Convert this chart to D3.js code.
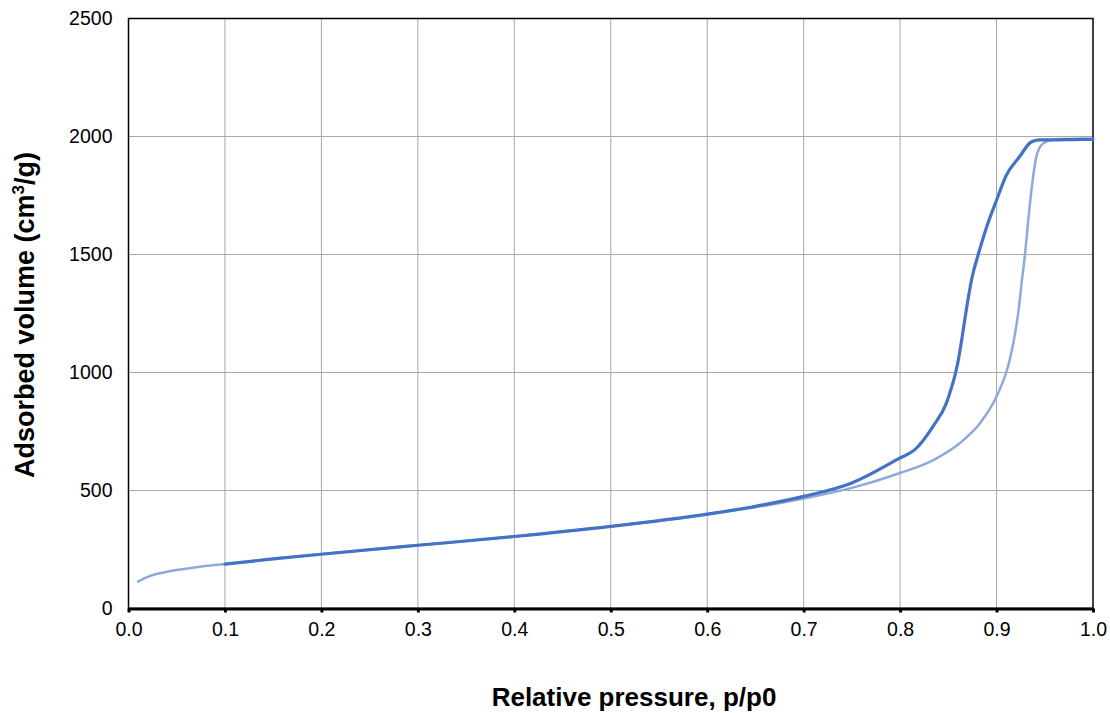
<!DOCTYPE html>
<html>
<head>
<meta charset="utf-8">
<script src="https://cdn.jsdelivr.net/npm/d3@7"></script>
<style>
  html, body { margin: 0; padding: 0; background: #fff; }
  svg { display: block; font-family: "Liberation Sans", Arial, sans-serif; }
</style>
</head>
<body>
<svg id="chart" width="1110" height="713"></svg>
<script>
// Nitrogen isotherm: adsorption branch (light) and desorption branch (dark)
const adsPressure = [0.01, 0.02, 0.03, 0.04, 0.05, 0.07, 0.10, 0.15, 0.20, 0.30, 0.40, 0.50, 0.60, 0.70, 0.75, 0.80, 0.835, 0.862, 0.883, 0.900, 0.905, 0.910, 0.914, 0.919, 0.923, 0.926, 0.9295, 0.933, 0.937, 0.941, 0.945, 0.950, 0.955, 0.966, 0.98, 1.00];
const adsVolume   = [114, 134, 147, 156, 163, 175, 189, 211, 231, 268, 305, 348, 398, 466, 511, 574, 630, 701, 786, 898, 945, 1000, 1060, 1160, 1270, 1380, 1500, 1650, 1800, 1910, 1955, 1975, 1983, 1989, 1990, 1990];

const desPressure = [0.10, 0.15, 0.20, 0.30, 0.40, 0.50, 0.60, 0.65, 0.70, 0.75, 0.80, 0.815, 0.834, 0.848, 0.853, 0.857, 0.860, 0.863, 0.866, 0.870, 0.875, 0.881, 0.890, 0.900, 0.910, 0.924, 0.935, 0.940, 0.945, 0.96, 0.98, 1.00];
const desVolume   = [188, 210, 230, 268, 305, 348, 400, 433, 475, 532, 638, 672, 771, 870, 932, 990, 1045, 1115, 1195, 1300, 1410, 1500, 1620, 1730, 1835, 1915, 1974, 1983, 1986, 1986, 1987, 1988];

const xTicks = [0, 0.1, 0.2, 0.3, 0.4, 0.5, 0.6, 0.7, 0.8, 0.9, 1.0];
const yTicks = [0, 500, 1000, 1500, 2000, 2500];

const svg = d3.select("#chart");
const m = { left: 128.5, right: 1093, top: 18.5, bottom: 608.5 };

const x = d3.scaleLinear().domain([0, 1]).range([m.left, m.right]);
const y = d3.scaleLinear().domain([0, 2500]).range([m.bottom, m.top]);

// gridlines
svg.append("g").selectAll("line").data(xTicks.slice(1, -1)).join("line")
  .attr("x1", d => x(d)).attr("x2", d => x(d))
  .attr("y1", m.top).attr("y2", m.bottom)
  .attr("stroke", "#a9a9a9").attr("stroke-width", 1);
svg.append("g").selectAll("line").data(yTicks.slice(1, -1)).join("line")
  .attr("x1", m.left).attr("x2", m.right)
  .attr("y1", d => y(d)).attr("y2", d => y(d))
  .attr("stroke", "#a9a9a9").attr("stroke-width", 1);

// plot border
svg.append("rect")
  .attr("x", m.left).attr("y", m.top)
  .attr("width", m.right - m.left).attr("height", m.bottom - m.top)
  .attr("fill", "none").attr("stroke", "#000").attr("stroke-width", 1.5);

// x axis
const xAxis = d3.axisBottom(x).tickValues(xTicks).tickFormat(d3.format(".1f"))
  .tickSize(4).tickSizeOuter(0).tickPadding(10);
const gx = svg.append("g").attr("transform", `translate(0,${m.bottom})`).call(xAxis);
gx.select(".domain").attr("stroke", "#000").attr("stroke-width", 3);
gx.selectAll(".tick line").attr("stroke", "#000").attr("stroke-width", 3);
gx.selectAll(".tick text").attr("font-size", 19.5).attr("fill", "#000")
  .attr("font-family", "Liberation Sans, Arial, sans-serif");

// y axis
const yAxis = d3.axisLeft(y).tickValues(yTicks).tickFormat(d3.format("d"))
  .tickSize(0).tickPadding(16);
const gy = svg.append("g").attr("transform", `translate(${m.left},0)`).call(yAxis);
gy.select(".domain").remove();
gy.selectAll(".tick text").attr("font-size", 19.5).attr("fill", "#000")
  .attr("font-family", "Liberation Sans, Arial, sans-serif");

// curves
const line = d3.line().x(d => x(d[0])).y(d => y(d[1])).curve(d3.curveMonotoneX);
const ads = d3.zip(adsPressure, adsVolume);
const des = d3.zip(desPressure, desVolume);

svg.append("path").datum(ads)
  .attr("d", line).attr("fill", "none")
  .attr("stroke", "#8eaadb").attr("stroke-width", 2.5)
  .attr("stroke-linejoin", "round").attr("stroke-linecap", "round");
svg.append("path").datum(des)
  .attr("d", line).attr("fill", "none")
  .attr("stroke", "#4472c4").attr("stroke-width", 3.2)
  .attr("stroke-linejoin", "round").attr("stroke-linecap", "round");

// axis titles
svg.append("text")
  .attr("x", 634).attr("y", 706)
  .attr("text-anchor", "middle")
  .attr("font-size", 26).attr("font-weight", "bold").attr("fill", "#000")
  .text("Relative pressure, p/p0");

const yt = svg.append("text")
  .attr("transform", `translate(34,315) rotate(-90)`)
  .attr("text-anchor", "middle")
  .attr("font-size", 27).attr("font-weight", "bold").attr("fill", "#000");
yt.append("tspan").text("Adsorbed volume (cm");
yt.append("tspan").attr("font-size", 17).attr("dy", -10).text("3");
yt.append("tspan").attr("dy", 10).text("/g)");
</script>
</body>
</html>
